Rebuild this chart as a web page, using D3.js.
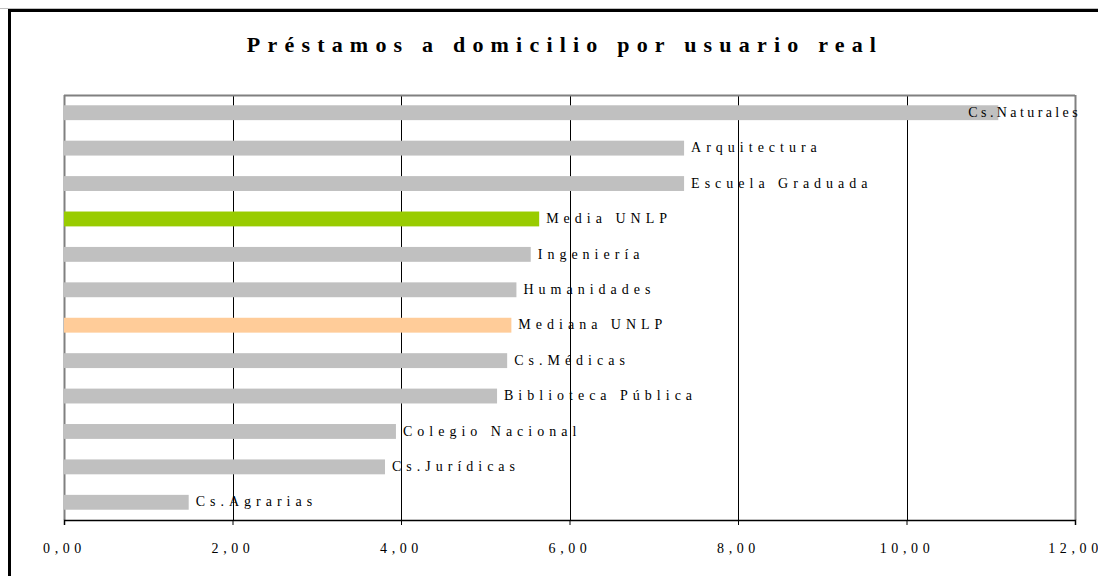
<!DOCTYPE html>
<html>
<head>
<meta charset="utf-8">
<script src="https://cdn.jsdelivr.net/npm/d3@7"></script>
<style>
  body { margin: 0; background: #fff; }
  svg { display: block; }
</style>
</head>
<body>
<svg width="1098" height="576"></svg>
<script>
// data, top to bottom
const categories = ["Cs.Naturales", "Arquitectura", "Escuela Graduada", "Media UNLP", "Ingeniería",
                    "Humanidades", "Mediana UNLP", "Cs.Médicas", "Biblioteca Pública",
                    "Colegio Nacional", "Cs.Jurídicas", "Cs.Agrarias"];
const values = [11.09, 7.36, 7.36, 5.64, 5.54, 5.37, 5.31, 5.26, 5.14, 3.94, 3.81, 1.48];
const tickValues = [0, 2, 4, 6, 8, 10, 12];

const svg = d3.select("svg");
const margin = { top: 95, left: 64, right: 23, bottom: 56 };
const width = 1098 - margin.left - margin.right;
const height = 576 - margin.top - margin.bottom;
const font = "'Liberation Serif', 'Times New Roman', serif";

// outer frame
svg.append("line").attr("x1", 0).attr("x2", 1098).attr("y1", 8.5).attr("y2", 8.5)
    .attr("stroke", "#c0c0c0").attr("stroke-width", 1);
svg.append("rect").attr("x", 9.5).attr("y", 10.5).attr("width", 1200).attr("height", 700)
    .attr("fill", "none").attr("stroke", "#000").attr("stroke-width", 3);

svg.append("text")
    .attr("x", 565).attr("y", 52)
    .attr("text-anchor", "middle")
    .style("font-family", font)
    .style("font-weight", "bold")
    .style("font-size", "22px")
    .style("letter-spacing", "7.2px")
    .text("Préstamos a domicilio por usuario real");

const chart = svg.append("g").attr("transform", `translate(${margin.left},${margin.top})`);

const x = d3.scaleLinear().domain([0, 12]).range([0, width]);
const y = d3.scaleBand().domain(categories).range([0, height]).paddingInner(0.58).paddingOuter(0.29);

// gridlines
chart.selectAll(".grid").data(tickValues).enter().append("line")
    .attr("x1", d => Math.round(x(d)) + 0.5).attr("x2", d => Math.round(x(d)) + 0.5)
    .attr("y1", 0).attr("y2", height)
    .attr("stroke", d => (d === 0 || d === 12) ? "#808080" : "#000")
    .attr("stroke-width", d => (d === 0 || d === 12) ? 2 : 1);
chart.append("line").attr("x1", 0).attr("x2", width).attr("y1", 0.5).attr("y2", 0.5)
    .attr("stroke", "#808080").attr("stroke-width", 2);

const colorFor = c => c === "Media UNLP" ? "#99cc00" : c === "Mediana UNLP" ? "#ffcc99" : "#c0c0c0";

chart.selectAll(".bar").data(categories).enter().append("rect")
    .attr("class", "bar")
    .attr("x", 0)
    .attr("y", c => y(c))
    .attr("width", (c, i) => x(values[i]))
    .attr("height", y.bandwidth())
    .attr("fill", colorFor);

// the first label sits over its bar end, as in the original
chart.selectAll(".lbl").data(categories).enter().append("text")
    .attr("x", (c, i) => i === 0 ? x(values[i]) - 30 : x(values[i]) + 7)
    .attr("y", c => y(c) + y.bandwidth() / 2)
    .attr("dy", "0.3em")
    .style("font-family", font)
    .style("font-size", "14px")
    .style("letter-spacing", (c, i) => i === 0 ? "3.4px" : "5px")
    .attr("fill", "#000")
    .text(c => c);

const xAxis = chart.append("g").attr("transform", `translate(0,${height})`)
    .call(d3.axisBottom(x).tickValues(tickValues).tickSize(5).tickPadding(18)
        .tickFormat(d => d3.format(".2f")(d).replace(".", ",")));
xAxis.select(".domain").attr("stroke", "#000").attr("stroke-width", 1.5);
xAxis.selectAll("text")
    .style("font-family", font)
    .style("font-size", "14px")
    .style("letter-spacing", "4.6px")
    .attr("fill", "#000");
</script>
</body>
</html>
